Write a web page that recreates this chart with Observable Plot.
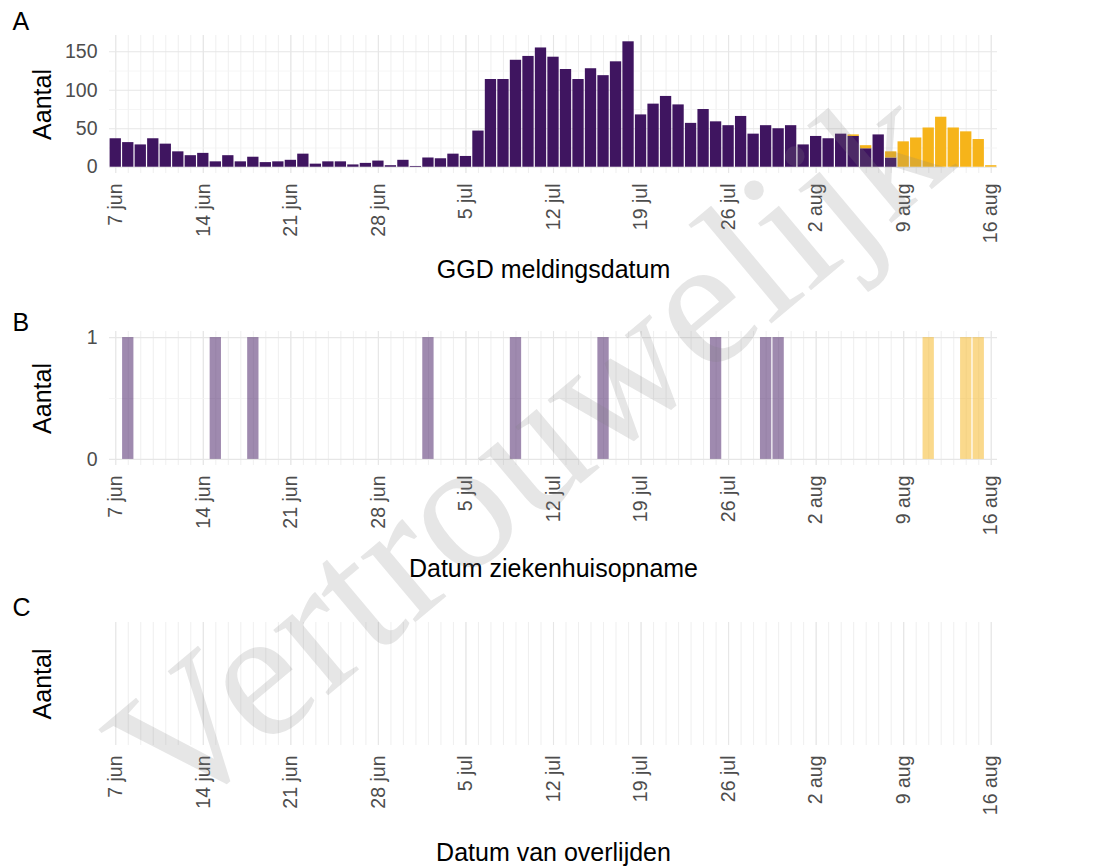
<!DOCTYPE html>
<html>
<head>
<meta charset="utf-8">
<script src="https://cdn.jsdelivr.net/npm/d3@7"></script>
<script src="https://cdn.jsdelivr.net/npm/@observablehq/plot@0.6"></script>
<style>
  body { margin: 0; background: #fff; }
  #wrap { position: relative; width: 1097px; height: 866px; overflow: hidden; background: #fff; }
  #wrap svg.plot { display: block; }
  #wm { position: absolute; left: 0; top: 0; pointer-events: none; }
</style>
</head>
<body>
<div id="wrap"></div>
<script>
// ---------- data ----------
const firstDay = "2020-06-07";
const lastDay = "2020-08-16";

// Panel A: GGD meldingen per dag (7 jun .. 16 aug)
const meldingenJuni = [37, 32, 29, 37, 30, 20, 15, 18, 7, 15, 7, 13, 6, 7, 9, 17, 4, 7, 7, 3, 5, 8, 2, 9];
const meldingenJuli = [1, 12, 11, 17, 14, 47, 114, 114, 139, 144, 155, 143, 127, 114, 128, 119, 137, 163, 68, 82, 92, 81, 57, 75, 59, 54, 66, 43, 54, 50, 54];
const meldingenAug  = [29, 40, 37, 43, 40, 24, 42, 12, 0, 0, 0, 0, 0, 0, 0, 0];
// recent (nog niet volledig) – geel
const recentAug     = [0, 0, 0, 0, 2, 4, 0, 8, 33, 38, 51, 65, 51, 46, 36, 2];

// Panel B: ziekenhuisopnames
const opnameDatum = ["2020-06-08", "2020-06-15", "2020-06-18", "2020-07-02", "2020-07-09", "2020-07-16",
                     "2020-07-25", "2020-07-29", "2020-07-30", "2020-08-11", "2020-08-14", "2020-08-15"];
const opnameAantal = [1, 1, 1, 1, 1, 1, 1, 1, 1, 1, 1, 1];
const opnameStatus = ["bekend", "bekend", "bekend", "bekend", "bekend", "bekend",
                      "bekend", "bekend", "bekend", "recent", "recent", "recent"];

// axes
const tickDatums = ["2020-06-07", "2020-06-14", "2020-06-21", "2020-06-28", "2020-07-05", "2020-07-12",
                    "2020-07-19", "2020-07-26", "2020-08-02", "2020-08-09", "2020-08-16"];
const tickLabels = ["7 jun", "14 jun", "21 jun", "28 jun", "5 jul", "12 jul", "19 jul", "26 jul", "2 aug", "9 aug", "16 aug"];
const yTicksA = [0, 50, 100, 150];
const yMinorA = [25, 75, 125];
const yTicksB = [0, 1];
const yMinorB = [0.5];
const watermark = "Vertrouwelijk";

// ---------- derived ----------
const HALF = 12 * 3600 * 1000;
const days = d3.utcDay.range(new Date(firstDay), d3.utcDay.offset(new Date(lastDay), 1));
const bekend = [...meldingenJuni, ...meldingenJuli, ...meldingenAug];
const recent = [...new Array(meldingenJuni.length + meldingenJuli.length).fill(0), ...recentAug];
const rowsA = [];
days.forEach((d, i) => {
  if (bekend[i] > 0) rowsA.push({date: d, y1: 0, y2: bekend[i], status: "bekend"});
  if (recent[i] > 0) rowsA.push({date: d, y1: bekend[i], y2: bekend[i] + recent[i], status: "recent"});
});
const rowsB = opnameDatum.map((d, i) => ({date: new Date(d), y1: 0, y2: opnameAantal[i], status: opnameStatus[i]}));
const tickDates = tickDatums.map(d => new Date(d));
const tickMs = tickDates.map(d => +d);
const fmt = d => tickLabels[tickMs.indexOf(+d)] ?? "";
const xDomain = [new Date(+days[0] - HALF), new Date(+days[days.length - 1] + HALF)];

const PURPLE = "#3f1560";
const YELLOW = "#f6b41a";
const colorScale = {domain: ["bekend", "recent"], range: [PURPLE, YELLOW]};
const FONT = "Liberation Sans, Arial, sans-serif";
const GRID = "#ebebeb";
const GRIDMINOR = "#f2f2f2";
const TICKCOL = "#4d4d4d";

function panel({height, mt, mb, yDomain, yMajor, yMinor, rows, fillOpacity, letter, letterDy, xTitle, xTitleDy}) {
  const marks = [
    Plot.ruleX(days, {stroke: GRID, strokeWidth: 0.8}),
    Plot.ruleX(tickDates, {stroke: "#e6e6e6", strokeWidth: 1.1})
  ];
  if (yMinor) marks.push(Plot.ruleY(yMinor, {stroke: GRIDMINOR, strokeWidth: 0.8}));
  if (yMajor) marks.push(Plot.ruleY(yMajor, {stroke: "#e6e6e6", strokeWidth: 1.1}));
  if (rows) marks.push(Plot.rect(rows, {
    x1: d => new Date(+d.date - HALF), x2: d => new Date(+d.date + HALF),
    y1: "y1", y2: "y2", fill: "status", fillOpacity, insetLeft: 0.6, insetRight: 0.6
  }));
  marks.push(Plot.axisX({ticks: tickDates, tickFormat: fmt, tickRotate: -90, tickSize: 0, tickPadding: 10,
    fontSize: 19.5, fill: TICKCOL, label: null}));
  if (yMajor) marks.push(Plot.axisY({ticks: yMajor, tickFormat: d => String(d), tickSize: 0, tickPadding: 12,
    fontSize: 19.5, fill: TICKCOL, label: null}));
  else marks.push(Plot.axisY({ticks: [], label: null}));
  marks.push(Plot.text([xTitle], {frameAnchor: "bottom", dy: xTitleDy, text: d => d, fontSize: 25, fill: "#000", lineAnchor: "middle"}));
  marks.push(Plot.text(["Aantal"], {frameAnchor: "left", dx: -67, text: d => d, rotate: -90, textAnchor: "middle",
    fontSize: 25, fill: "#000", lineAnchor: "middle"}));
  marks.push(Plot.text([letter], {frameAnchor: "top-left", dx: -97, dy: letterDy, text: d => d, textAnchor: "start", lineAnchor: "middle", fontSize: 25, fill: "#000"}));
  return Plot.plot({
    width: 1097, height, marginTop: mt, marginBottom: mb, marginLeft: 109, marginRight: 100,
    style: {fontFamily: FONT, background: "transparent", overflow: "visible"},
    x: {type: "utc", domain: xDomain},
    y: {domain: yDomain},
    color: colorScale,
    marks
  });
}

const wrap = document.getElementById("wrap");
wrap.append(panel({height: 300, mt: 35, mb: 127, yDomain: [-8.15, 171.2], yMajor: yTicksA, yMinor: yMinorA,
  rows: rowsA, fillOpacity: 1, letter: "A", letterDy: -14, xTitle: "GGD meldingsdatum", xTitleDy: 96}));
wrap.append(panel({height: 290, mt: 31, mb: 125, yDomain: [-0.05, 1.05], yMajor: yTicksB, yMinor: yMinorB,
  rows: rowsB, fillOpacity: 0.5, letter: "B", letterDy: -9, xTitle: "Datum ziekenhuisopname", xTitleDy: 103}));
wrap.append(panel({height: 276, mt: 32, mb: 121, yDomain: [0, 1], yMajor: null, yMinor: null,
  rows: null, fillOpacity: 1, letter: "C", letterDy: -15, xTitle: "Datum van overlijden", xTitleDy: 107}));

// watermark overlay (kept fully inside the page)
const wm = d3.select(wrap).append("svg").attr("id", "wm").attr("width", 1097).attr("height", 866);
wm.append("text")
  .attr("transform", "translate(175,824) rotate(-40)")
  .attr("font-family", "Liberation Serif, DejaVu Serif, serif")
  .attr("font-size", 186)
  .attr("fill", "#808080")
  .attr("fill-opacity", 0.2)
  .text(watermark);
</script>
</body>
</html>
